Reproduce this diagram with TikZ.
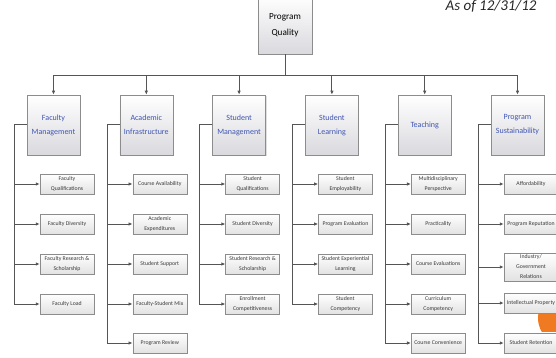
\documentclass[tikz,border=0pt]{standalone}
\usepackage{fontspec}
\setmainfont{Carlito}
\usetikzlibrary{arrows.meta,shadows}
\definecolor{boxline}{HTML}{8C8C8C}
\definecolor{catbot}{HTML}{D9D9DE}
\definecolor{childbot}{HTML}{E2E2E2}
\definecolor{catblue}{HTML}{3F55B0}
\definecolor{childtext}{HTML}{3A3A3A}
\definecolor{linegray}{HTML}{555555}
\definecolor{orangeblob}{HTML}{F07A22}
\begin{document}
\begin{tikzpicture}[x=1pt,y=-1pt,
  rootbox/.style={draw=boxline, line width=0.6pt, top color=white, bottom color=catbot,
    minimum width=54pt, minimum height=58pt, inner sep=1pt, align=center,
    text=black, font=\fontsize{9.2}{16}\selectfont,
    drop shadow={shadow xshift=1pt, shadow yshift=-1pt, opacity=0.25}},
  catbox/.style={draw=boxline, line width=0.6pt, top color=white, bottom color=catbot,
    minimum width=53pt, minimum height=60pt, inner sep=1pt, align=center,
    text=catblue, font=\fontsize{8}{14}\selectfont,
    drop shadow={shadow xshift=1pt, shadow yshift=-1pt, opacity=0.25}},
  childbox/.style={draw=boxline, line width=0.5pt, top color=white, bottom color=childbot,
    minimum width=54pt, minimum height=20.5pt, inner sep=1pt, align=center,
    text=childtext, font=\fontsize{5.8}{10}\selectfont,
    drop shadow={shadow xshift=0.8pt, shadow yshift=-0.8pt, opacity=0.2}},
  conn/.style={draw=linegray, line width=1pt},
  arr/.style={conn, -{Latex[length=4pt,width=3.5pt]}}
]
\useasboundingbox (0,0) rectangle (556,358);
\fill[orangeblob] (566,318) circle (28);

\node[text=black!85, font=\fontsize{15}{15}\itshape, anchor=north east] (asof) at (540,-3) {As of 12/31/12};

\node[rootbox] (root) at (285,25) {Program\\Quality};

% categories
\node[catbox] (c1) at (53.5,125) {Faculty\\Management};
\node[catbox] (c2) at (146.3,125) {Academic\\Infrastructure};
\node[catbox] (c3) at (239.1,125) {Student\\Management};
\node[catbox] (c4) at (331.9,125) {Student\\Learning};
\node[catbox] (c5) at (424.7,125) {Teaching};
\node[catbox] (c6) at (517.5,125) {Program\\Sustainability};

\foreach \c in {c1,c2,c3,c4,c5,c6}
  \draw[arr] (root.south) -- ++(0,21) -| (\c.north);

% children: Faculty Management
\node[childbox] (f1) at (67,184) {Faculty\\Qualifications};
\node[childbox] (f2) at (67,224) {Faculty Diversity};
\node[childbox] (f3) at (67,264) {Faculty Research \&\\Scholarship};
\node[childbox] (f4) at (67,304) {Faculty Load};
% Academic Infrastructure
\node[childbox] (a1) at (159.8,184) {Course Availability};
\node[childbox] (a2) at (159.8,224) {Academic\\Expenditures};
\node[childbox] (a3) at (159.8,264) {Student Support};
\node[childbox] (a4) at (159.8,304) {Faculty-Student Mix};
\node[childbox] (a5) at (159.8,343) {Program Review};
% Student Management
\node[childbox] (s1) at (252.6,184) {Student\\Qualifications};
\node[childbox] (s2) at (252.6,224) {Student Diversity};
\node[childbox] (s3) at (252.6,264) {Student Research \&\\Scholarship};
\node[childbox] (s4) at (252.6,304) {Enrollment\\Competitiveness};
% Student Learning
\node[childbox] (l1) at (345.4,184) {Student\\Employability};
\node[childbox] (l2) at (345.4,224) {Program Evaluation};
\node[childbox] (l3) at (345.4,264) {Student Experiential\\Learning};
\node[childbox] (l4) at (345.4,304) {Student\\Competency};
% Teaching
\node[childbox] (t1) at (438.2,184) {Multidisciplinary\\Perspective};
\node[childbox] (t2) at (438.2,224) {Practicality};
\node[childbox] (t3) at (438.2,264) {Course Evaluations};
\node[childbox] (t4) at (438.2,304) {Curriculum\\Competency};
\node[childbox] (t5) at (438.2,343) {Course Convenience};
% Program Sustainability
\node[childbox] (p1) at (531,184) {Affordability};
\node[childbox] (p2) at (531,224) {Program Reputation};
\node[childbox, minimum height=28pt] (p3) at (531,267) {Industry/\\Government\\Relations};
\node[childbox] (p4) at (531,303) {Intellectual Property};
\node[childbox] (p5) at (531,343) {Student Retention};

\foreach \p/\kids in {c1/{f1,f2,f3,f4}, c2/{a1,a2,a3,a4,a5}, c3/{s1,s2,s3,s4},
                      c4/{l1,l2,l3,l4}, c5/{t1,t2,t3,t4,t5}, c6/{p1,p2,p3,p4,p5}}
  \foreach \k in \kids
    \draw[arr] (\p.west) -- ++(-12.5,0) |- (\k.west);
\end{tikzpicture}
\end{document}
